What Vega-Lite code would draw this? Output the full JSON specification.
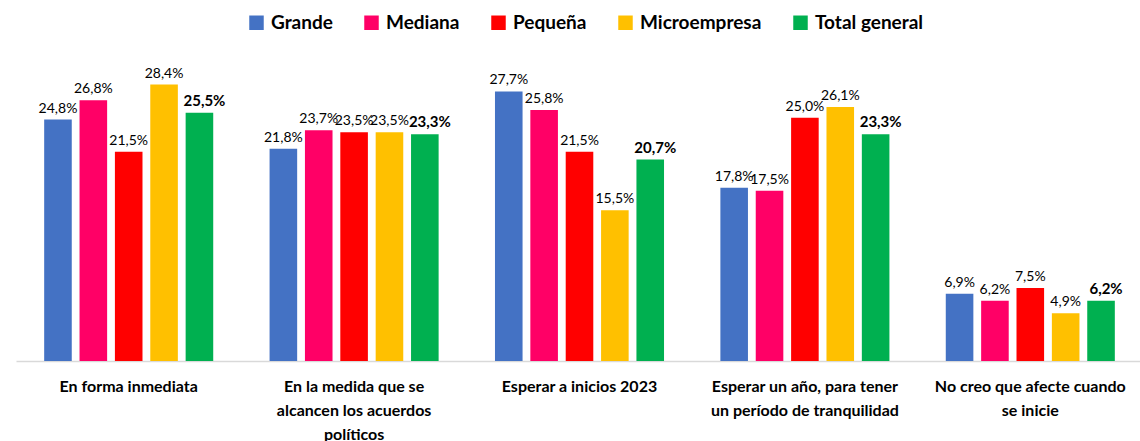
{
  "$schema": "https://vega.github.io/schema/vega-lite/v6.json",
  "autosize": "none",
  "width": 1127,
  "height": 292,
  "padding": {"left": 16, "top": 69, "right": 0, "bottom": 80},
  "background": "white",
  "config": {
    "view": {"stroke": null},
    "font": "Lato",
    "locale": {"number": {"decimal": ",", "thousands": ".", "grouping": [3], "currency": ["", " €"]}}
  },
  "data": {
    "values": [
      {"cat": "En forma inmediata", "serie": "Grande", "v": 0.248},
      {"cat": "En forma inmediata", "serie": "Mediana", "v": 0.268},
      {"cat": "En forma inmediata", "serie": "Pequeña", "v": 0.215},
      {"cat": "En forma inmediata", "serie": "Microempresa", "v": 0.284},
      {"cat": "En forma inmediata", "serie": "Total general", "v": 0.255},
      {"cat": "En la medida que se alcancen los acuerdos políticos", "serie": "Grande", "v": 0.218},
      {"cat": "En la medida que se alcancen los acuerdos políticos", "serie": "Mediana", "v": 0.237},
      {"cat": "En la medida que se alcancen los acuerdos políticos", "serie": "Pequeña", "v": 0.235},
      {"cat": "En la medida que se alcancen los acuerdos políticos", "serie": "Microempresa", "v": 0.235},
      {"cat": "En la medida que se alcancen los acuerdos políticos", "serie": "Total general", "v": 0.233},
      {"cat": "Esperar a inicios 2023", "serie": "Grande", "v": 0.277},
      {"cat": "Esperar a inicios 2023", "serie": "Mediana", "v": 0.258},
      {"cat": "Esperar a inicios 2023", "serie": "Pequeña", "v": 0.215},
      {"cat": "Esperar a inicios 2023", "serie": "Microempresa", "v": 0.155},
      {"cat": "Esperar a inicios 2023", "serie": "Total general", "v": 0.207},
      {"cat": "Esperar un año, para tener un período de tranquilidad", "serie": "Grande", "v": 0.178},
      {"cat": "Esperar un año, para tener un período de tranquilidad", "serie": "Mediana", "v": 0.175},
      {"cat": "Esperar un año, para tener un período de tranquilidad", "serie": "Pequeña", "v": 0.250},
      {"cat": "Esperar un año, para tener un período de tranquilidad", "serie": "Microempresa", "v": 0.261},
      {"cat": "Esperar un año, para tener un período de tranquilidad", "serie": "Total general", "v": 0.233},
      {"cat": "No creo que afecte cuando se inicie", "serie": "Grande", "v": 0.069},
      {"cat": "No creo que afecte cuando se inicie", "serie": "Mediana", "v": 0.062},
      {"cat": "No creo que afecte cuando se inicie", "serie": "Pequeña", "v": 0.075},
      {"cat": "No creo que afecte cuando se inicie", "serie": "Microempresa", "v": 0.049},
      {"cat": "No creo que afecte cuando se inicie", "serie": "Total general", "v": 0.062}
    ]
  },
  "encoding": {
    "x": {
      "field": "cat", "type": "nominal", "sort": null, "title": null,
      "scale": {"paddingInner": 0.25, "paddingOuter": 0.125},
      "axis": {
        "labelAngle": 0, "ticks": false, "domainColor": "#d9d9d9", "domainWidth": 1.5,
        "labelFontWeight": "bold", "labelFontSize": 16, "labelColor": "#000000",
        "labelPadding": 17, "labelLineHeight": 24, "labelLimit": 300, "labelBaseline": "top",
        "labelExpr": "datum.value == 'En la medida que se alcancen los acuerdos políticos' ? ['En la medida que se', 'alcancen los acuerdos', 'políticos'] : datum.value == 'Esperar un año, para tener un período de tranquilidad' ? ['Esperar un año, para tener', 'un período de tranquilidad'] : datum.value == 'No creo que afecte cuando se inicie' ? ['No creo que afecte cuando', 'se inicie'] : datum.value"
      }
    },
    "xOffset": {
      "field": "serie", "type": "nominal",
      "sort": ["Grande", "Mediana", "Pequeña", "Microempresa", "Total general"],
      "scale": {"paddingInner": 0.22, "paddingOuter": 0}
    },
    "y": {
      "field": "v", "type": "quantitative", "title": null,
      "scale": {"domain": [0, 0.3]},
      "axis": null
    }
  },
  "layer": [
    {
      "mark": {"type": "bar"},
      "encoding": {
        "color": {
          "field": "serie", "type": "nominal", "title": null,
          "sort": ["Grande", "Mediana", "Pequeña", "Microempresa", "Total general"],
          "scale": {
            "domain": ["Grande", "Mediana", "Pequeña", "Microempresa", "Total general"],
            "range": ["#4472C4", "#FF0066", "#FF0000", "#FFC000", "#00B050"]
          },
          "legend": {
            "orient": "none", "direction": "horizontal", "legendX": 231, "legendY": -56,
            "symbolType": "square", "symbolSize": 210, "symbolStrokeWidth": 0,
            "labelFontSize": 19, "labelFontWeight": "bold", "labelColor": "#000000",
            "columnPadding": 29, "labelOffset": 5
          }
        }
      }
    },
    {
      "transform": [{"filter": "datum.serie != 'Total general'"}],
      "mark": {"type": "text", "baseline": "bottom", "dy": -4, "fontSize": 14, "color": "#000000"},
      "encoding": {"text": {"field": "v", "type": "quantitative", "format": ".1%"}}
    },
    {
      "transform": [{"filter": "datum.serie == 'Total general'"}],
      "mark": {"type": "text", "baseline": "bottom", "dy": -4, "dx": 5, "fontSize": 15, "fontWeight": "bold", "color": "#000000"},
      "encoding": {"text": {"field": "v", "type": "quantitative", "format": ".1%"}}
    }
  ]
}
